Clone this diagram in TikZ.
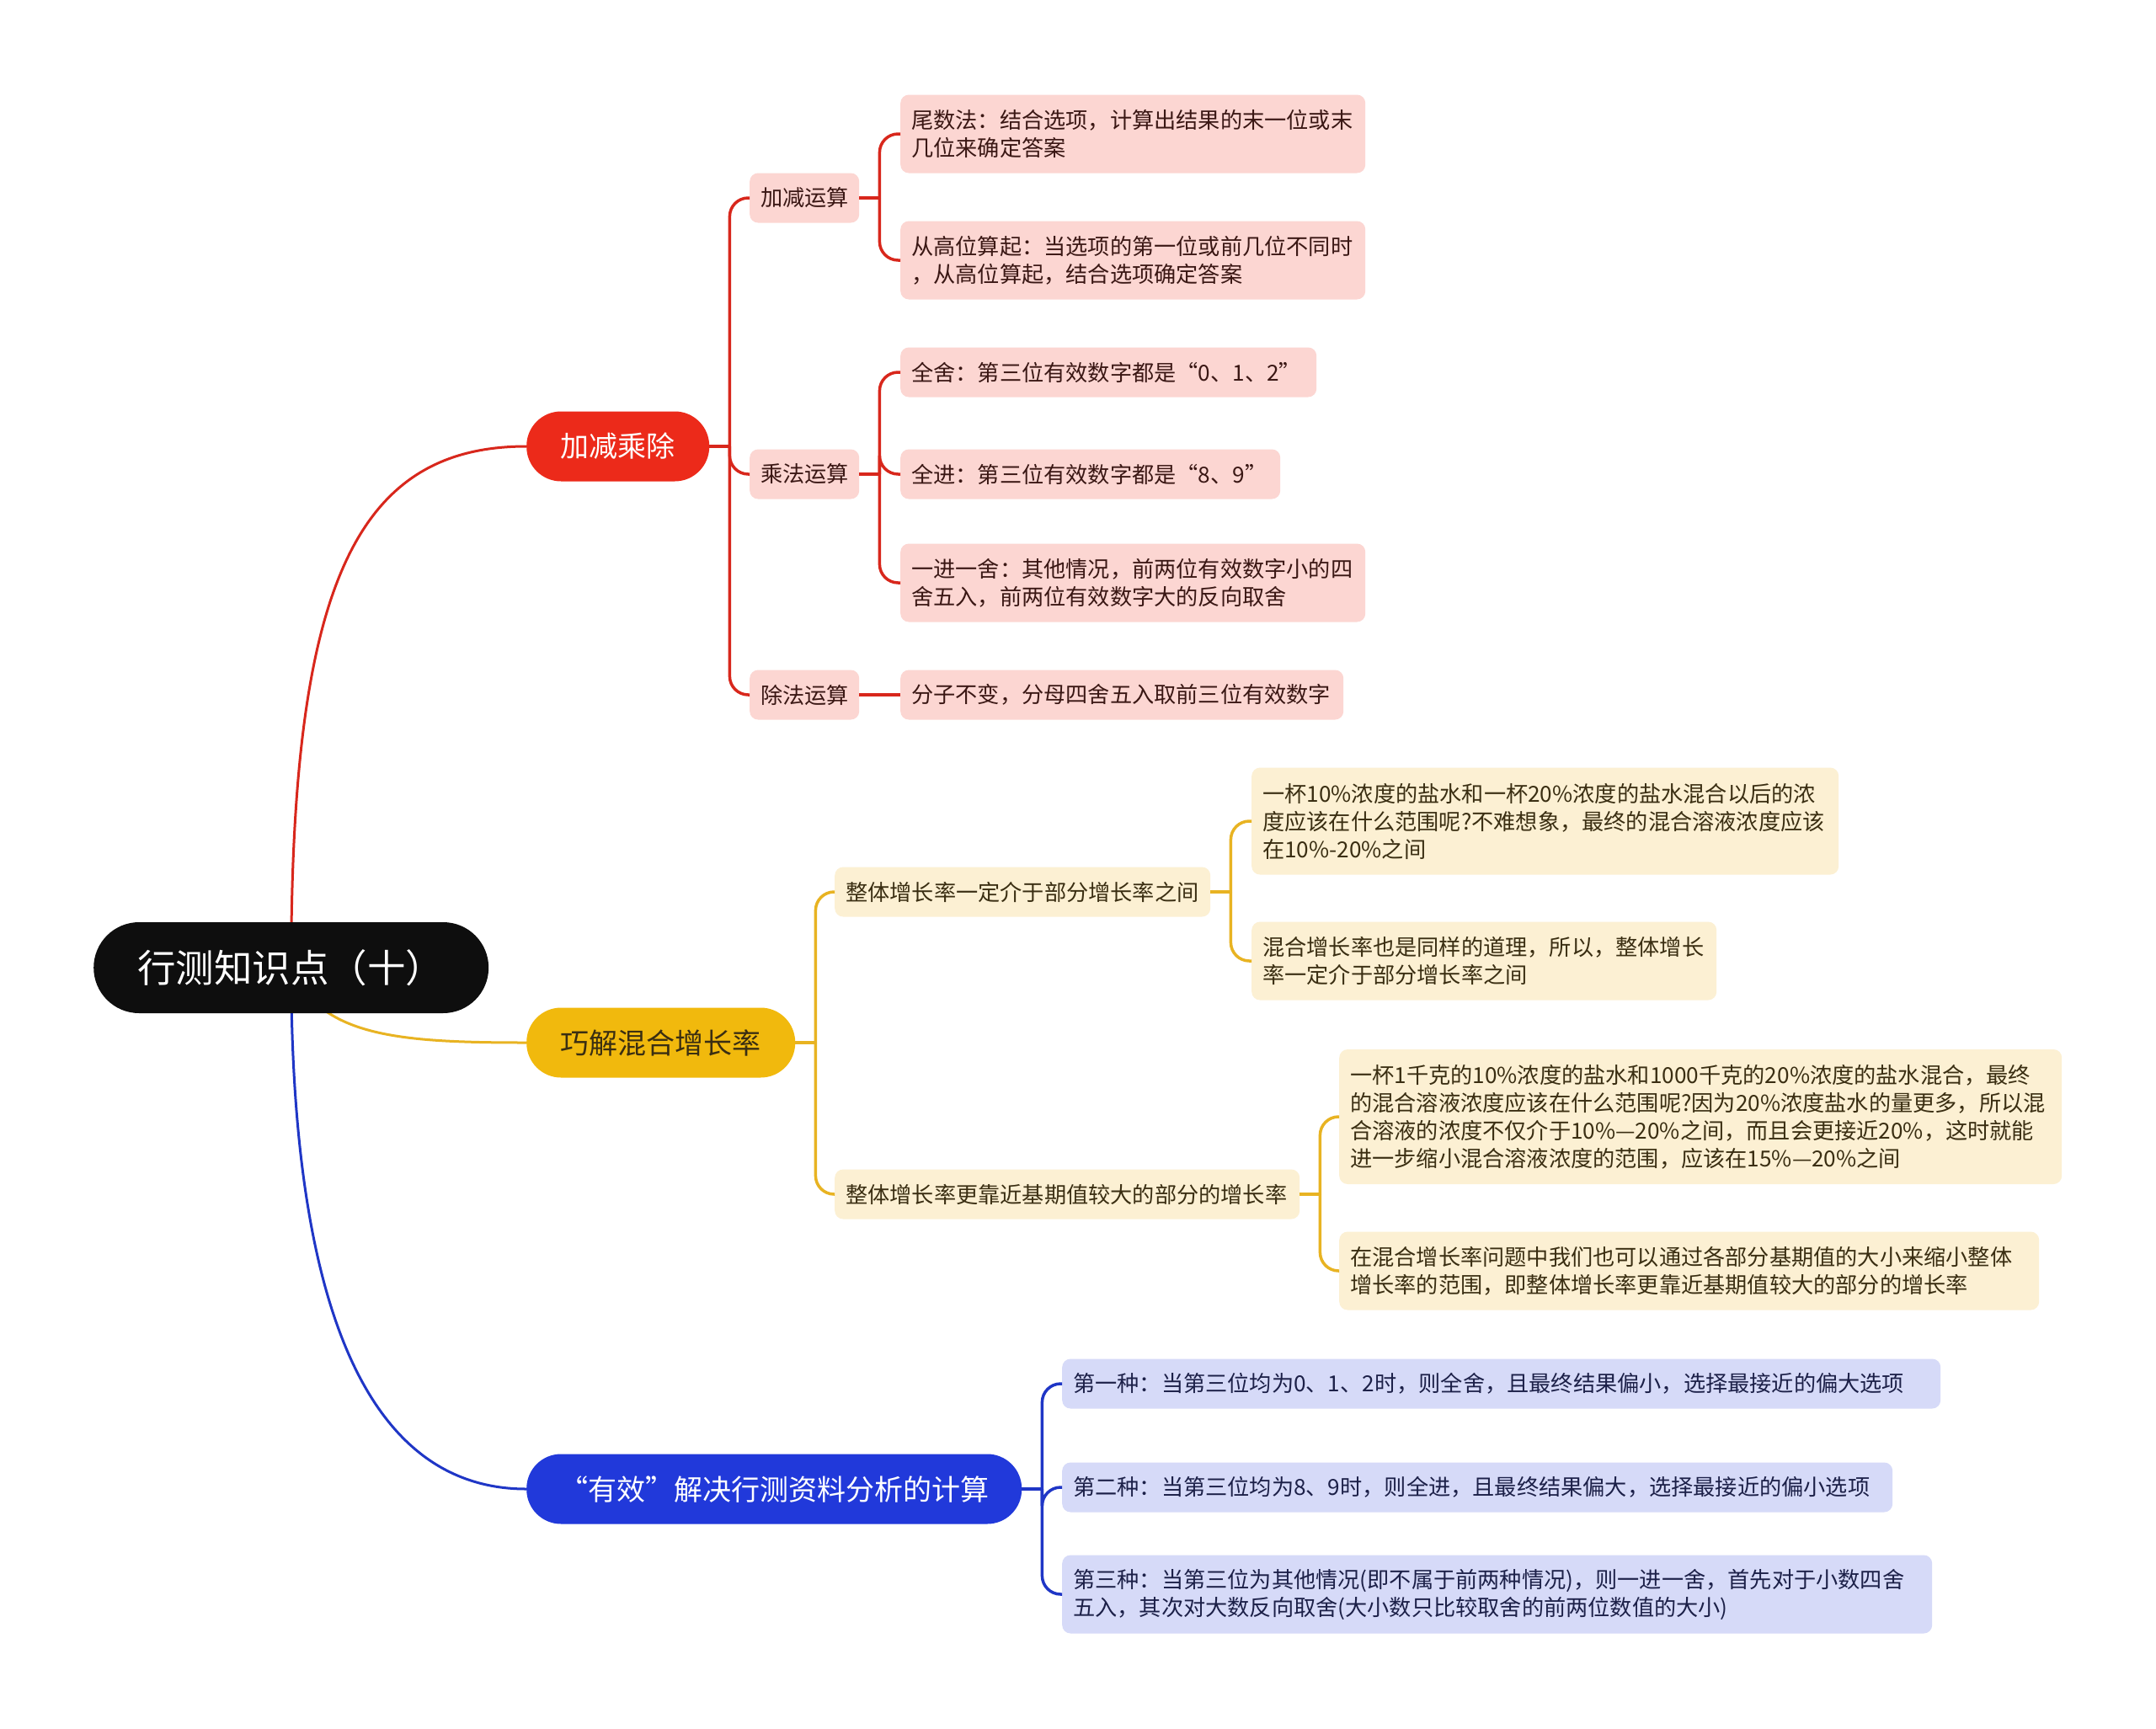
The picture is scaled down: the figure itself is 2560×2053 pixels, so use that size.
\documentclass[tikz,border=0pt]{standalone}
\usepackage{fontspec}
\setmainfont{Noto Sans CJK SC}
\usetikzlibrary{positioning,backgrounds}
\definecolor{coal}{HTML}{0E0E0E}
\definecolor{scarlet}{HTML}{EC2A1A}
\definecolor{scarletln}{HTML}{D8271C}
\definecolor{blush}{HTML}{FCD6D2}
\definecolor{rust}{HTML}{3A1714}
\definecolor{amber}{HTML}{F1B90D}
\definecolor{amberln}{HTML}{E8B322}
\definecolor{cream}{HTML}{FCF0D3}
\definecolor{umber}{HTML}{3A2E12}
\definecolor{royal}{HTML}{2139DA}
\definecolor{royalln}{HTML}{1F36C6}
\definecolor{lilac}{HTML}{D6DAF8}
\definecolor{ink}{HTML}{1C2048}
\tikzset{rootbox/.style={fill=coal,text=white,rounded corners=54pt,minimum height=108pt,inner xsep=52pt,text width=365pt,align=left,anchor=west,font=\fontsize{45.5}{52}\selectfont},
topic/.style={rounded corners=41pt,minimum height=83pt,anchor=west,font=\fontsize{34}{40}\selectfont},
card/.style={rounded corners=10pt,inner xsep=13pt,inner ysep=3pt,text width=#1-26pt,minimum height=59pt,align=left,anchor=west,font=\fontsize{26.2}{33}\selectfont},
rcard/.style={card=#1,fill=blush,text=rust},ycard/.style={card=#1,fill=cream,text=umber},bcard/.style={card=#1,fill=lilac,text=ink},
lines2/.style={minimum height=93pt},lines3/.style={minimum height=127pt},lines4/.style={minimum height=160pt},
link/.style={line width=3.5pt,rounded corners=22pt},
rlink/.style={link,draw=scarletln},ylink/.style={link,draw=amberln},blink/.style={link,draw=royalln}}
\begin{document}
\begin{tikzpicture}[x=1pt,y=-1pt]
\useasboundingbox (0,0) rectangle (2560,2053);
% centre and main topics
\node[rootbox] (root) at (111,1149) {行测知识点（十）};
\node[topic,fill=scarlet,text=white,minimum width=217pt] (arith) at (625,530) {加减乘除};
\node[topic,fill=amber,text=umber,minimum width=319pt] (mix) at (625,1238) {巧解混合增长率};
\node[topic,fill=royal,text=white,minimum width=588pt] (valid) at (625,1768) {“有效”解决行测资料分析的计算};
% red branch
\node[rcard=130pt] (addsub) at (890,235) {加减运算};
\node[rcard=130pt] (mult) at (890,563) {乘法运算};
\node[rcard=130pt] (divi) at (890,825) {除法运算};
\node[rcard=552pt,lines2] (tail) at (1069,159) {尾数法：结合选项，计算出结果的末一位或末\\几位来确定答案};
\node[rcard=552pt,lines2] (high) at (1069,309) {从高位算起：当选项的第一位或前几位不同时\\，从高位算起，结合选项确定答案};
\node[rcard=494pt] (down) at (1069,442) {全舍：第三位有效数字都是“0、1、2”};
\node[rcard=451pt] (up) at (1069,563) {全进：第三位有效数字都是“8、9”};
\node[rcard=552pt,lines2] (half) at (1069,692) {一进一舍：其他情况，前两位有效数字小的四\\舍五入，前两位有效数字大的反向取舍};
\node[rcard=526pt] (frac) at (1069,825) {分子不变，分母四舍五入取前三位有效数字};
% yellow branch
\node[ycard=446pt] (between) at (991,1059) {整体增长率一定介于部分增长率之间};
\node[ycard=552pt] (closer) at (991,1418) {整体增长率更靠近基期值较大的部分的增长率};
\node[ycard=697pt,lines3] (salt) at (1486,975) {一杯10\%浓度的盐水和一杯20\%浓度的盐水混合以后的浓\\度应该在什么范围呢?不难想象，最终的混合溶液浓度应该\\在10\%-20\%之间};
\node[ycard=552pt,lines2] (same) at (1486,1141) {混合增长率也是同样的道理，所以，整体增长\\率一定介于部分增长率之间};
\node[ycard=858pt,lines4] (kilo) at (1590,1326) {一杯1千克的10\%浓度的盐水和1000千克的20\%浓度的盐水混合，最终\\的混合溶液浓度应该在什么范围呢?因为20\%浓度盐水的量更多，所以混\\合溶液的浓度不仅介于10\%—20\%之间，而且会更接近20\%，这时就能\\进一步缩小混合溶液浓度的范围，应该在15\%—20\%之间};
\node[ycard=831pt,lines2] (base) at (1590,1509) {在混合增长率问题中我们也可以通过各部分基期值的大小来缩小整体\\增长率的范围，即整体增长率更靠近基期值较大的部分的增长率};
% blue branch
\node[bcard=1043pt] (first) at (1261,1643) {第一种：当第三位均为0、1、2时，则全舍，且最终结果偏小，选择最接近的偏大选项};
\node[bcard=986pt] (second) at (1261,1766) {第二种：当第三位均为8、9时，则全进，且最终结果偏大，选择最接近的偏小选项};
\node[bcard=1033pt,lines2] (third) at (1261,1893) {第三种：当第三位为其他情况(即不属于前两种情况)，则一进一舍，首先对于小数四舍\\五入，其次对大数反向取舍(大小数只比较取舍的前两位数值的大小)};
% connectors
\coordinate[right=24pt of arith.east] (sa); \coordinate[right=24pt of addsub.east] (sb); \coordinate[right=24pt of mult.east] (sc);
\coordinate[right=24pt of mix.east] (sd); \coordinate[right=24pt of between.east] (se); \coordinate[right=24pt of closer.east] (sf);
\coordinate[right=24pt of valid.east] (sg);
\draw[rlink] (arith.east)--(sa); \foreach \n in {addsub,mult,divi} \draw[rlink] (sa) |- (\n.west);
\draw[rlink] (addsub.east)--(sb); \foreach \n in {tail,high} \draw[rlink] (sb) |- (\n.west);
\draw[rlink] (mult.east)--(sc); \foreach \n in {down,up,half} \draw[rlink] (sc) |- (\n.west);
\draw[rlink] (divi.east)--(frac.west);
\draw[ylink] (mix.east)--(sd); \foreach \n in {between,closer} \draw[ylink] (sd) |- (\n.west);
\draw[ylink] (between.east)--(se); \foreach \n in {salt,same} \draw[ylink] (se) |- (\n.west);
\draw[ylink] (closer.east)--(sf); \foreach \n in {kilo,base} \draw[ylink] (sf) |- (\n.west);
\draw[blink] (valid.east)--(sg); \foreach \n in {first,second,third} \draw[blink] (sg) |- (\n.west);
\begin{scope}[on background layer]
\fill[white] (0,0) rectangle (2560,2053);
\draw[rlink,line width=3pt] (root.center) .. controls (346,700) and (420,530) .. (arith.west);
\draw[ylink,line width=3pt] (root.center) .. controls (380,1230) and (470,1238) .. (mix.west);
\draw[blink,line width=3pt] (root.center) .. controls (346,1560) and (440,1768) .. (valid.west);
\end{scope}
\end{tikzpicture}
\end{document}
